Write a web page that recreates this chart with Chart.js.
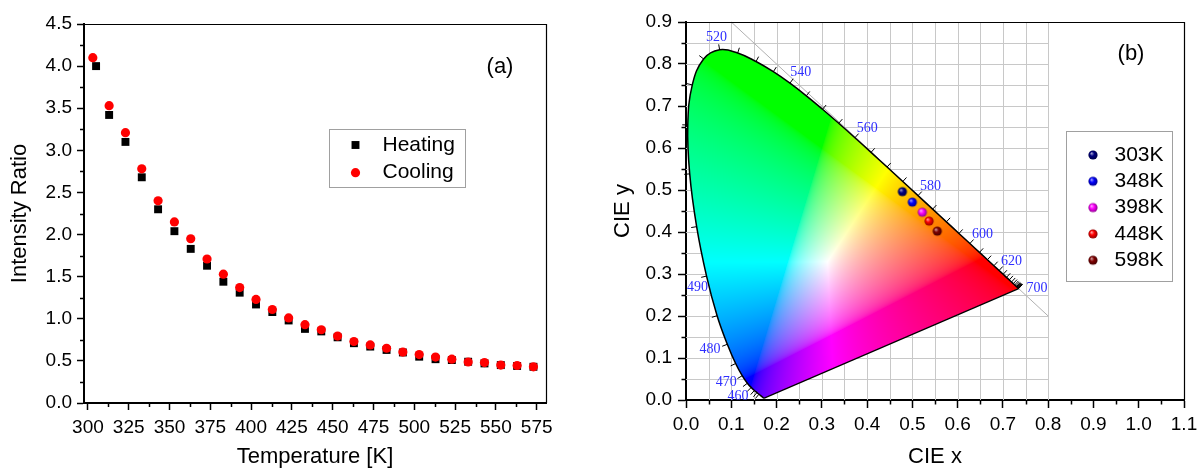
<!DOCTYPE html>
<html>
<head>
<meta charset="utf-8">
<script src="https://cdn.jsdelivr.net/npm/chart.js@4.4.0/dist/chart.umd.min.js"></script>
<style>
  html, body { margin: 0; padding: 0; background: #fff; overflow: hidden; }
  #wrapA { position: absolute; left: 0; top: 0; width: 590px; height: 470px; }
  #wrapB { position: absolute; left: 590px; top: 0; width: 607px; height: 470px; }
</style>
</head>
<body>
<div id="wrapA"><canvas id="ratioChart" width="590" height="470"></canvas></div>
<div id="wrapB"><canvas id="cieChart" width="607" height="470"></canvas></div>
<script>
// Dati pannello (a): rapporto di intensità
const heatingTemps = [305, 313, 323, 333, 343, 353, 363, 373, 383, 393, 403, 413, 423, 433, 443, 453, 463, 473, 483, 493, 503, 513, 523, 533, 543, 553, 563, 573];
const coolingTemps = [303, 313, 323, 333, 343, 353, 363, 373, 383, 393, 403, 413, 423, 433, 443, 453, 463, 473, 483, 493, 503, 513, 523, 533, 543, 553, 563, 573];
const heatingRatio = [4.00, 3.42, 3.10, 2.68, 2.30, 2.04, 1.83, 1.63, 1.44, 1.31, 1.17, 1.08, 0.98, 0.88, 0.85, 0.78, 0.71, 0.67, 0.63, 0.60, 0.55, 0.52, 0.51, 0.49, 0.47, 0.45, 0.44, 0.43];
const coolingRatio = [4.10, 3.53, 3.21, 2.78, 2.40, 2.15, 1.95, 1.71, 1.53, 1.37, 1.23, 1.11, 1.01, 0.93, 0.87, 0.795, 0.73, 0.69, 0.65, 0.605, 0.575, 0.545, 0.52, 0.487, 0.48, 0.45, 0.445, 0.43];
const tempTicks = [300, 325, 350, 375, 400, 425, 450, 475, 500, 525, 550, 575];
const ratioTicks = [0, 0.5, 1, 1.5, 2, 2.5, 3, 3.5, 4, 4.5];

// Dati pannello (b): diagramma CIE 1931
const cieLabels = ['303K', '348K', '398K', '448K', '598K'];
const cieX = [0.478, 0.500, 0.522, 0.537, 0.555];
const cieY = [0.496, 0.471, 0.447, 0.426, 0.402];
const cieXTicks = [0, 0.1, 0.2, 0.3, 0.4, 0.5, 0.6, 0.7, 0.8, 0.9, 1.0, 1.1];
const cieYTicks = [0, 0.1, 0.2, 0.3, 0.4, 0.5, 0.6, 0.7, 0.8, 0.9];

// Luogo spettrale (lunghezze d'onda in nm)
const locusNm = [380, 385, 390, 395, 400, 405, 410, 415, 420, 425, 430, 435, 440, 445, 450, 455, 460, 465, 470, 475, 480, 485, 490, 495, 500, 505, 510, 515, 520, 525, 530, 535, 540, 545, 550, 555, 560, 565, 570, 575, 580, 585, 590, 595, 600, 605, 610, 615, 620, 625, 630, 635, 640, 645, 650, 655, 660, 665, 670, 675, 680, 685, 690, 695, 700];
const locusX = [0.1741, 0.1740, 0.1738, 0.1736, 0.1733, 0.1730, 0.1726, 0.1721, 0.1714, 0.1703, 0.1689, 0.1669, 0.1644, 0.1611, 0.1566, 0.1510, 0.1440, 0.1355, 0.1241, 0.1096, 0.0913, 0.0687, 0.0454, 0.0235, 0.0082, 0.0039, 0.0139, 0.0389, 0.0743, 0.1142, 0.1547, 0.1929, 0.2296, 0.2658, 0.3016, 0.3373, 0.3731, 0.4087, 0.4441, 0.4788, 0.5125, 0.5448, 0.5752, 0.6029, 0.6270, 0.6482, 0.6658, 0.6801, 0.6915, 0.7006, 0.7079, 0.7140, 0.7190, 0.7230, 0.7260, 0.7283, 0.7300, 0.7311, 0.7320, 0.7327, 0.7334, 0.7340, 0.7344, 0.7346, 0.7347];
const locusY = [0.0050, 0.0050, 0.0049, 0.0049, 0.0048, 0.0048, 0.0048, 0.0048, 0.0051, 0.0058, 0.0069, 0.0086, 0.0109, 0.0138, 0.0177, 0.0227, 0.0297, 0.0399, 0.0578, 0.0868, 0.1327, 0.2007, 0.2950, 0.4127, 0.5384, 0.6548, 0.7502, 0.8120, 0.8338, 0.8262, 0.8059, 0.7816, 0.7543, 0.7243, 0.6923, 0.6589, 0.6245, 0.5896, 0.5547, 0.5202, 0.4866, 0.4544, 0.4242, 0.3965, 0.3725, 0.3514, 0.3340, 0.3197, 0.3083, 0.2993, 0.2920, 0.2859, 0.2809, 0.2770, 0.2740, 0.2717, 0.2700, 0.2689, 0.2680, 0.2673, 0.2666, 0.2660, 0.2656, 0.2654, 0.2653];
const labelNm = [460, 470, 480, 490, 520, 540, 560, 580, 600, 620, 700];

const sphereColors = ['#000080', '#0000ff', '#ff00ff', '#ff0000', '#800000'];

Chart.defaults.font.family = '"Liberation Sans", Arial, sans-serif';
Chart.defaults.color = '#000';

// Mescola un colore esadecimale con bianco/nero
function mix(hex, target, t) {
  const n = parseInt(hex.slice(1), 16);
  const c = [(n >> 16) & 255, (n >> 8) & 255, n & 255];
  return 'rgb(' + c.map(v => Math.round(v + (target - v) * t)).join(',') + ')';
}

// Sfera con riflesso, usata come pointStyle
function sphere(color, r) {
  const c = document.createElement('canvas');
  const s = Math.ceil(r * 2 + 2);
  c.width = c.height = s;
  const g = c.getContext('2d');
  const m = s / 2;
  const grad = g.createRadialGradient(m - r * 0.35, m - r * 0.4, r * 0.05, m, m, r);
  grad.addColorStop(0, mix(color, 255, 0.65));
  grad.addColorStop(0.45, color);
  grad.addColorStop(1, mix(color, 0, 0.45));
  g.fillStyle = grad;
  g.beginPath();
  g.arc(m, m, r, 0, Math.PI * 2);
  g.fill();
  return c;
}

// Legenda in un riquadro + etichetta del pannello
const boxLegend = {
  id: 'boxLegend',
  afterDraw(chart, args, o) {
    const ctx = chart.ctx;
    ctx.save();
    ctx.strokeStyle = '#a0a0a0';
    ctx.lineWidth = 1;
    ctx.strokeRect(Math.round(o.x) + 0.5, Math.round(o.y) + 0.5, o.w, o.h);
    ctx.textBaseline = 'middle';
    ctx.textAlign = 'left';
    ctx.font = o.font;
    chart.data.datasets.filter(d => d.inLegend !== false).forEach((d, i) => {
      const cy = o.y + o.first + i * o.step;
      ctx.fillStyle = d.backgroundColor;
      Chart.helpers.drawPoint(ctx, {pointStyle: d.pointStyle, radius: d.pointRadius, rotation: 0, borderWidth: 0}, o.x + o.markerX, cy);
      ctx.fillStyle = '#000';
      ctx.fillText(d.label, o.x + o.textX, cy);
    });
    ctx.font = o.tagFont;
    ctx.textAlign = 'center';
    ctx.fillText(o.tag, o.tagX, o.tagY);
    ctx.restore();
  }
};

// Cornice superiore/destra e tacche minori
const frameTicks = {
  id: 'frameTicks',
  afterDraw(chart, args, o) {
    const {ctx, chartArea: a} = chart;
    const xs = chart.scales.x, ys = chart.scales.y;
    ctx.save();
    ctx.strokeStyle = '#000';
    ctx.lineWidth = 1.2;
    ctx.beginPath();
    ctx.moveTo(a.left, Math.round(a.top) + 0.5);
    ctx.lineTo(Math.round(a.right) + 0.5, Math.round(a.top) + 0.5);
    ctx.lineTo(Math.round(a.right) + 0.5, a.bottom);
    ctx.stroke();
    const mids = s => s.ticks.slice(1).map((t, i) => (t.value + s.ticks[i].value) / 2);
    ctx.lineWidth = 1.5;
    ctx.beginPath();
    mids(xs).forEach(v => {
      const p = Math.round(xs.getPixelForValue(v)) + 0.5;
      ctx.moveTo(p, a.bottom);
      ctx.lineTo(p, a.bottom + o.minor);
    });
    mids(ys).forEach(v => {
      const p = Math.round(ys.getPixelForValue(v)) + 0.5;
      ctx.moveTo(a.left, p);
      ctx.lineTo(a.left - o.minor, p);
    });
    ctx.stroke();
    ctx.restore();
  }
};

// Conversione cromaticità xy -> sRGB (normalizzata)
function gammaSrgb(v) {
  return v <= 0.0031308 ? 12.92 * v : 1.055 * Math.pow(v, 1 / 2.4) - 0.055;
}
function xyToRgb(x, y) {
  const X = x / y, Z = (1 - x - y) / y;
  let r = 3.2406 * X - 1.5372 - 0.4986 * Z;
  let g = -0.9689 * X + 1.8758 + 0.0415 * Z;
  let b = 0.0557 * X - 0.2040 + 1.0570 * Z;
  r = Math.max(r, 0); g = Math.max(g, 0); b = Math.max(b, 0);
  const m = Math.max(r, g, b) || 1;
  return [gammaSrgb(r / m) * 255, gammaSrgb(g / m) * 255, gammaSrgb(b / m) * 255];
}

// Griglia, riempimento colorato, tacche e lunghezze d'onda
const cieGamut = {
  id: 'cieGamut',
  beforeDatasetsDraw(chart) {
    const {ctx, chartArea: a} = chart;
    const xs = chart.scales.x, ys = chart.scales.y;
    const px = v => xs.getPixelForValue(v), py = v => ys.getPixelForValue(v);
    ctx.save();

    // griglia solo fino a x = 0.8
    ctx.strokeStyle = '#c8c8c8';
    ctx.lineWidth = 1;
    ctx.beginPath();
    for (let k = 1; k <= 16; k++) {
      const gx = Math.round(px(k * 0.05)) + 0.5;
      ctx.moveTo(gx, a.top); ctx.lineTo(gx, a.bottom);
    }
    for (let k = 1; k < 18; k++) {
      const gy = Math.round(py(k * 0.05)) + 0.5;
      ctx.moveTo(a.left, gy); ctx.lineTo(px(0.8), gy);
    }
    ctx.stroke();

    // retta x + y = 1
    ctx.strokeStyle = '#b0b0b0';
    ctx.beginPath();
    ctx.moveTo(px(0.1), py(0.9));
    ctx.lineTo(px(0.8), py(0.2));
    ctx.stroke();

    // immagine dei colori
    if (!chart.$gamut) {
      const w = Math.ceil(a.right - a.left), h = Math.ceil(a.bottom - a.top);
      const off = document.createElement('canvas');
      off.width = w; off.height = h;
      const octx = off.getContext('2d');
      const img = octx.createImageData(w, h);
      for (let j = 0; j < h; j++) {
        const y = ys.getValueForPixel(a.top + j + 0.5);
        if (y <= 0.001) continue;
        for (let i = 0; i < w; i++) {
          const x = xs.getValueForPixel(a.left + i + 0.5);
          if (x > 0.76 || y > 0.86) continue;
          const c = xyToRgb(x, y);
          const k = (j * w + i) * 4;
          img.data[k] = c[0]; img.data[k + 1] = c[1]; img.data[k + 2] = c[2]; img.data[k + 3] = 255;
        }
      }
      octx.putImageData(img, 0, 0);
      chart.$gamut = off;
    }
    // ritaglio lungo la stessa curva del dataset "locus"
    const locusMeta = chart.getDatasetMeta(chart.data.datasets.findIndex(d => d.label === 'locus'));
    ctx.save();
    ctx.beginPath();
    locusMeta.dataset.path(ctx);
    ctx.closePath();
    ctx.clip();
    ctx.drawImage(chart.$gamut, a.left, a.top);
    ctx.restore();

    // normale esterna al luogo spettrale
    const pts = locusX.map((x, i) => [px(x), py(locusY[i])]);
    const normalAt = i => {
      const p0 = pts[Math.max(0, i - 1)], p1 = pts[Math.min(pts.length - 1, i + 1)];
      const tx = p1[0] - p0[0], ty = p1[1] - p0[1];
      const len = Math.hypot(tx, ty) || 1;
      return [ty / len, -tx / len];
    };

    ctx.strokeStyle = '#000';
    ctx.lineWidth = 1;
    ctx.beginPath();
    locusNm.forEach((nm, i) => {
      if (nm < 445) return;
      const n = normalAt(i), p = pts[i];
      ctx.moveTo(p[0], p[1]);
      ctx.lineTo(p[0] + n[0] * 5.5, p[1] + n[1] * 5.5);
    });
    ctx.stroke();

    ctx.font = '14px "Liberation Serif", "Times New Roman", serif';
    ctx.fillStyle = '#2f2fff';
    ctx.textAlign = 'center';
    ctx.textBaseline = 'middle';
    labelNm.forEach(nm => {
      const i = locusNm.indexOf(nm);
      const n = i === locusNm.length - 1 ? [1, 0] : normalAt(i);
      const p = pts[i];
      const t = String(nm);
      const w = ctx.measureText(t).width;
      let lx = p[0] + n[0] * (8 + w / 2);
      let ly = p[1] + n[1] * (8 + 5);
      // se esce dall'area, la sposta dentro e un po' più in basso
      if (lx < a.left + w / 2 + 1) {
        lx = a.left + w / 2 + 1;
        ly += 8;
      }
      ctx.fillText(t, lx, ly);
    });
    ctx.restore();
  }
};

function axisStyle(extra) {
  return Object.assign({
    type: 'linear',
    grid: {drawOnChartArea: false, tickLength: 7, tickColor: '#000', tickWidth: 1.5},
    border: {color: '#000', width: 2},
  }, extra);
}

// Grafico (a)
new Chart(document.getElementById('ratioChart'), {
  type: 'scatter',
  data: {
    datasets: [{
      label: 'Heating',
      data: heatingTemps.map((t, i) => ({x: t, y: heatingRatio[i]})),
      pointStyle: 'rect',
      pointRadius: 5.6,
      backgroundColor: '#000',
      borderWidth: 0,
      order: 2
    }, {
      label: 'Cooling',
      data: coolingTemps.map((t, i) => ({x: t, y: coolingRatio[i]})),
      pointStyle: 'circle',
      pointRadius: 4.6,
      backgroundColor: '#ff0000',
      borderWidth: 0,
      order: 1
    }]
  },
  options: {
    responsive: false,
    animation: false,
    events: [],
    layout: {padding: {left: 0, top: 24, right: 44, bottom: 0}},
    plugins: {
      legend: {display: false},
      tooltip: {enabled: false},
      boxLegend: {x: 328.5, y: 128.5, w: 136, h: 58, first: 16.5, step: 27.7, markerX: 27, textX: 54,
        font: '21px "Liberation Sans", Arial, sans-serif', tag: '(a)', tagX: 500, tagY: 67,
        tagFont: '22px "Liberation Sans", Arial, sans-serif'},
      frameTicks: {minor: 4}
    },
    scales: {
      x: axisStyle({
        min: 297.6, max: 580.7,
        afterBuildTicks: s => { s.ticks = tempTicks.map(v => ({value: v})); },
        afterFit: s => { s.height = 67; s.paddingLeft = 0; s.paddingRight = 0; },
        ticks: {font: {size: 19}, padding: 6, maxRotation: 0, autoSkip: false, callback: v => String(v)},
        title: {display: true, text: 'Temperature [K]', font: {size: 22}, padding: {top: 0, bottom: 0}}
      }),
      y: axisStyle({
        min: 0, max: 4.5,
        afterBuildTicks: s => { s.ticks = ratioTicks.map(v => ({value: v})); },
        afterFit: s => { s.width = 84; },
        ticks: {font: {size: 19}, padding: 5, autoSkip: false, callback: v => v.toFixed(1)},
        title: {display: true, text: 'Intensity Ratio', font: {size: 22}, padding: {top: 7, bottom: 0}}
      })
    }
  },
  plugins: [frameTicks, boxLegend]
});

// Grafico (b)
const cieSets = cieLabels.map((lab, i) => ({
  label: lab,
  data: [{x: cieX[i], y: cieY[i]}],
  pointStyle: sphere(sphereColors[i], 4.6),
  pointRadius: 4.6,
  backgroundColor: sphereColors[i],
  order: 0
}));
// contorno curvo del luogo spettrale
cieSets.push({
  label: 'locus',
  inLegend: false,
  data: locusX.map((x, i) => ({x: x, y: locusY[i]})),
  showLine: true,
  tension: 0.4,
  borderColor: '#000',
  borderWidth: 1.5,
  pointRadius: 0,
  fill: false,
  order: 10
});
// linea delle porpore
cieSets.push({
  label: 'purple',
  inLegend: false,
  data: [{x: locusX[locusX.length - 1], y: locusY[locusY.length - 1]}, {x: locusX[0], y: locusY[0]}],
  showLine: true,
  borderColor: '#000',
  borderWidth: 1.2,
  pointRadius: 0,
  fill: false,
  order: 10
});

new Chart(document.getElementById('cieChart'), {
  type: 'scatter',
  data: {datasets: cieSets},
  options: {
    responsive: false,
    animation: false,
    events: [],
    layout: {padding: {left: 0, top: 22, right: 13, bottom: 0}},
    plugins: {
      legend: {display: false},
      tooltip: {enabled: false},
      boxLegend: {x: 475.5, y: 130.5, w: 106, h: 150, first: 24.5, step: 26.3, markerX: 27.5, textX: 49,
        font: '21px "Liberation Sans", Arial, sans-serif', tag: '(b)', tagX: 541, tagY: 54,
        tagFont: '22px "Liberation Sans", Arial, sans-serif'},
      frameTicks: {minor: 4.5}
    },
    scales: {
      x: axisStyle({
        min: 0, max: 1.1,
        grid: {drawOnChartArea: false, tickLength: 8, tickColor: '#000', tickWidth: 1.5},
        afterBuildTicks: s => { s.ticks = cieXTicks.map(v => ({value: v})); },
        afterFit: s => { s.height = 70; s.paddingLeft = 0; s.paddingRight = 0; },
        ticks: {font: {size: 19}, padding: 5, maxRotation: 0, autoSkip: false, callback: v => v.toFixed(1)},
        title: {display: true, text: 'CIE x', font: {size: 22}, padding: {top: 0, bottom: 0}}
      }),
      y: axisStyle({
        min: 0, max: 0.9,
        grid: {drawOnChartArea: false, tickLength: 8, tickColor: '#000', tickWidth: 1.5},
        afterBuildTicks: s => { s.ticks = cieYTicks.map(v => ({value: v})); },
        afterFit: s => { s.width = 96; },
        ticks: {font: {size: 19}, padding: 6, autoSkip: false, callback: v => v.toFixed(1)},
        title: {display: true, text: 'CIE y', font: {size: 22}, padding: {top: 20, bottom: 0}}
      })
    }
  },
  plugins: [cieGamut, frameTicks, boxLegend]
});
</script>
</body>
</html>
